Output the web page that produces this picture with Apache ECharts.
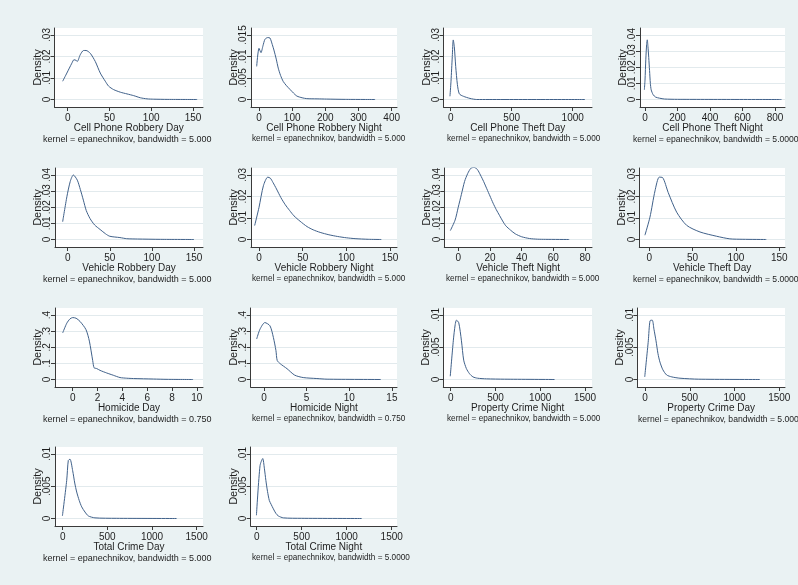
<!DOCTYPE html>
<html><head><meta charset="utf-8">
<script src="https://cdn.jsdelivr.net/npm/echarts@6/dist/echarts.min.js"></script>
<style>html,body{margin:0;padding:0;background:#EAF2F3;overflow:hidden}#c{width:798px;height:585px}</style>
</head><body><div id="c"></div>
<script>
// ---------------- DATA ----------------
const titles = ['Cell Phone Robbery Day','Cell Phone Robbery Night','Cell Phone Theft Day','Cell Phone Theft Night',
  'Vehicle Robbery Day','Vehicle Robbery Night','Vehicle Theft Night','Vehicle Theft Day',
  'Homicide Day','Homicide Night','Property Crime Night','Property Crime Day',
  'Total Crime Day','Total Crime Night'];
// bandwidth text as visible in each panel's note
const bandwidths = ['5.000','5.000','5.000','5.0000','5.000','5.000','5.000','5.0000',
  '0.750','0.750','5.000','5.0000','5.000','5.0000'];

const xTicks1 = [0,50,100,150];
const xTicks2 = [0,100,200,300,400];
const xTicks3 = [0,500,1000];
const xTicks4 = [0,200,400,600,800];
const xTicks7 = [0,20,40,60,80];
const xTicks9 = [0,2,4,6,8,10];
const xTicks10 = [0,5,10,15];
const xTicks11 = [0,500,1000,1500];

const yTicksA = [0,.01,.02,.03];
const yTicksB = [0,.005,.01,.015];
const yTicksC = [0,.01,.02,.03,.04];
const yTicksD = [0,.1,.2,.3,.4];
const yTicksE = [0,.005,.01];

const p1X = [-6,-1,5,7.5,10,11.5,15,19,22,27,33,39,45,49,55,63,71,79,87,95,103,120,155];
const p1Y = [.0085,.0123,.0169,.0185,.0182,.0177,.0208,.0228,.0228,.0215,.0177,.0123,.0085,.0062,.0046,.0034,.0026,.0018,.0008,.0003,.00015,.00005,0];
const p2X = [-7,0,6,12,18,26,33,40,45,52,58,65,73,83,94,104,114,130,144,175,204,260,350];
const p2Y = [.0077,.0119,.0109,.0125,.014,.0144,.0143,.0128,.0115,.0094,.0073,.0056,.0042,.0032,.0023,.0015,.0008,.0004,.0002,.00015,.0001,.00003,0];
const p3X = [-6,2.5,13,21,29.5,41,55,71,104,158,213,1100];
const p3Y = [.0015,.0085,.02,.0277,.0246,.0154,.0069,.0026,.0015,.0005,0,0];
const p4X = [-4,0,5,10,14,18,23,28,33,38,50,65,90,120,200,840];
const p4Y = [.006,.012,.025,.034,.037,.033,.026,.018,.01,.006,.003,.0015,.0008,.0003,.0001,0];
const p5X = [-6,-1,3,6.7,11.4,15,18.6,22,26.5,32,38.5,45,50,62,70,83,110,150];
const p5Y = [.011,.0265,.036,.04,.0368,.031,.0244,.018,.013,.009,.0062,.0035,.002,.0012,.0005,.0003,.0001,0];
const p6X = [-5,0,5,10,13,16,20,25,30,35,40,47,55,62,70,80,90,100,110,125,140];
const p6Y = [.0065,.015,.025,.029,.0285,.0265,.0235,.0195,.0162,.0135,.011,.0085,.006,.0045,.0033,.0022,.0014,.0008,.0004,.0001,0];
const p7X = [-5,-2,0,2,4,6,8,10,12,14,16,18,20,22,24,26,28,30,33,36,40,45,50,55,70];
const p7Y = [.0055,.012,.02,.028,.036,.041,.0442,.0447,.0435,.040,.036,.0315,.027,.0225,.0185,.015,.0115,.0085,.0058,.0035,.0017,.0006,.0002,.0001,0];
const p8X = [-5,0.8,6.6,11.5,15.4,21.9,31.6,43.1,58.5,77.8,93,108,135];
const p8Y = [.002,.0104,.0226,.029,.0288,.0218,.0127,.0066,.0035,.0015,.0003,.0001,0];
const p9X = [-0.81,-0.48,-0.22,0,0.27,0.59,1.07,1.34,1.61,1.72,1.93,2.2,2.74,3.27,3.81,4.35,4.89,6.5,7.6,9.7];
const p9Y = [.289,.349,.376,.384,.38,.36,.309,.238,.117,.0727,.068,.0566,.0404,.0263,.0121,.008,.006,.003,.001,0];
const p10X = [-0.86,-0.47,0.1,0.7,1.1,1.4,1.55,1.9,2.7,3.6,4.6,6.2,7.4,13.7];
const p10Y = [.251,.312,.353,.333,.261,.18,.118,.098,.067,.027,.012,.006,.002,0];
const p11X = [-5,29,50,64.5,90,120,145,175,210,249,300,400,600,1160];
const p11Y = [.0005,.006,.0085,.0092,.0088,.006,.003,.0017,.0009,.0004,.0002,.0001,.00005,0];
const p12X = [-3,37,56,81,100,123,145,167,200,242,300,391,600,1283];
const p12Y = [.0004,.006,.0091,.0092,.0078,.006,.004,.0027,.0015,.0007,.0004,.0002,.00005,0];
const p13X = [-3,45,63,82,112,135,157,185,213,250,287,361,600,1275];
const p13Y = [.0004,.0059,.009,.0092,.0074,.0055,.0041,.0028,.0018,.001,.0004,.0001,.00003,0];
const p14X = [-3,37,67,85,102,120,140,160,185,213,240,296,500,1167];
const p14Y = [.0005,.0082,.0093,.0078,.0059,.0042,.0028,.0022,.0015,.0008,.0004,.0001,.00003,0];

// ---------------- LAYOUT ----------------
// [left, top, right, bottom, xMin, xMax, noteLeft]
const layout = [
  [54.5,28,203,107, -15.8,162, 43],
  [251,28,397,107, -24.1,416, 252],
  [443.5,28,592,107, -59,1158, 447],
  [640,28,785,107, -30.8,861.5, 633],
  [55,168,203,247, -15.1,160.7, 43],
  [251,168,397,247, -9.2,158, 252],
  [444.3,168,592,247, -8.8,84.4, 446],
  [639.3,168,785,247, -11.5,156.6, 633],
  [55,308,203,387, -1.43,10.5, 43],
  [250.7,308,397,387, -1.56,15.6, 252],
  [443.3,308,592,387, -82.7,1578, 447],
  [637.3,308,785,387, -86,1564, 638],
  [55,447,203,526, -86,1571, 43],
  [250.7,447,397,526, -66.7,1559, 252]
];
const noteFontByCol = [9, 8.2, 8.2, 8.6];
const xs = [p1X,p2X,p3X,p4X,p5X,p6X,p7X,p8X,p9X,p10X,p11X,p12X,p13X,p14X];
const ys = [p1Y,p2Y,p3Y,p4Y,p5Y,p6Y,p7Y,p8Y,p9Y,p10Y,p11Y,p12Y,p13Y,p14Y];
const xt = [xTicks1,xTicks2,xTicks3,xTicks4,xTicks1,xTicks1,xTicks7,xTicks1,xTicks9,xTicks10,xTicks11,xTicks11,xTicks11,xTicks11];
const yt = [yTicksA,yTicksB,yTicksA,yTicksC,yTicksC,yTicksA,yTicksC,yTicksA,yTicksD,yTicksD,yTicksE,yTicksE,yTicksE,yTicksE];

const FONT = "'Liberation Sans',Arial,sans-serif";
const TXT = '#1e1e1e';
const AX = '#3a3a3a';
const fmtY = v => v === 0 ? '0' : String(v).replace(/^0\./, '.');
const fmtX = v => String(v);

const grids = [], xAxes = [], yAxes = [], series = [], graphics = [];
layout.forEach((L, i) => {
  const [l, t, r, b, xmin, xmax, nl] = L;
  const ticksY = yt[i];
  const top = ticksY[ticksY.length - 1];
  const span = (b - t) - 14.5;
  const ymin = -7.5 / span * top, ymax = top + 7 / span * top;
  grids.push({left: l, top: t, width: r - l, height: b - t, show: true, backgroundColor: '#fff', borderWidth: 0, containLabel: false});
  xAxes.push({
    type: 'value', gridIndex: i, min: xmin, max: xmax, position: 'bottom',
    axisLine: {show: true, onZero: false, lineStyle: {color: AX, width: 1}},
    axisTick: {show: true, length: 4, customValues: xt[i], lineStyle: {color: AX}},
    axisLabel: {show: true, customValues: xt[i], margin: 5.5, fontSize: 10, fontFamily: FONT, color: TXT, lineHeight: 11, hideOverlap: false, formatter: fmtX},
    splitLine: {show: false},
    name: titles[i], nameLocation: 'middle', nameGap: 15.5, nameMoveOverlap: false,
    nameTextStyle: {fontSize: 10, fontFamily: FONT, color: TXT, lineHeight: 11}
  });
  yAxes.push({
    type: 'value', gridIndex: i, min: ymin, max: ymax, position: 'left',
    axisLine: {show: true, onZero: false, lineStyle: {color: AX, width: 1}},
    axisTick: {show: true, length: 4, customValues: ticksY, lineStyle: {color: AX}},
    axisLabel: {show: true, customValues: ticksY, rotate: 90, margin: 2, fontSize: 10, fontFamily: FONT, color: TXT, lineHeight: 11, formatter: fmtY},
    splitLine: {show: true, lineStyle: {color: '#E2EAED', width: 1}},
    name: 'Density', nameLocation: 'middle', nameGap: 11, nameMoveOverlap: false,
    nameTextStyle: {fontSize: 11, fontFamily: FONT, color: TXT, lineHeight: 12}
  });
  series.push({
    type: 'line', xAxisIndex: i, yAxisIndex: i, showSymbol: false, smooth: 0.25,
    lineStyle: {color: '#40618A', width: 1}, silent: true, animation: false,
    data: xs[i].map((x, k) => [x, ys[i][k]])
  });
  const fs = noteFontByCol[i < 12 ? i % 4 : i - 12];
  graphics.push({
    type: 'text', left: nl, top: b + 33 - fs * 0.6,
    style: {text: 'kernel = epanechnikov, bandwidth = ' + bandwidths[i], font: fs + "px " + FONT, fill: TXT}
  });
});

const chart = echarts.init(document.getElementById('c'), null, {renderer: 'canvas'});
chart.setOption({
  animation: false,
  backgroundColor: '#EAF2F3',
  grid: grids, xAxis: xAxes, yAxis: yAxes, series: series, graphic: graphics
});
</script></body></html>
